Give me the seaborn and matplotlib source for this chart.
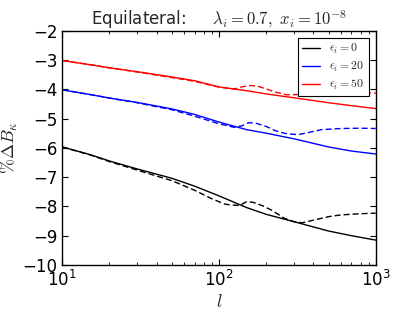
import matplotlib
matplotlib.use('Agg')
import matplotlib.pyplot as plt
from matplotlib.font_manager import FontProperties
from matplotlib.ticker import MultipleLocator
import pandas as pd
import seaborn as sns

# multipoles for the smooth (solid) curves
l_solid = [10, 15, 20, 30, 50, 70, 100, 150, 200, 300, 500, 700, 1000]
eps0_solid = [-5.97, -6.23, -6.45, -6.72, -7.04, -7.31, -7.64, -8.04, -8.27, -8.52, -8.84, -9.0, -9.15]
eps20_solid = [-4.02, -4.18, -4.30, -4.45, -4.67, -4.86, -5.12, -5.38, -5.50, -5.69, -5.97, -6.11, -6.21]
eps50_solid = [-3.02, -3.16, -3.27, -3.40, -3.58, -3.71, -3.92, -4.05, -4.16, -4.29, -4.46, -4.56, -4.66]

# dashed curves
l_dash0 = [10, 15, 20, 30, 50, 70, 90, 110, 135, 150, 165, 190, 215, 240, 260, 300, 340, 400, 500, 600, 800, 1000]
eps0_dash = [-5.97, -6.24, -6.47, -6.76, -7.12, -7.45, -7.74, -7.93, -7.97, -7.84, -7.86, -7.98, -8.12, -8.28, -8.40, -8.52,
             -8.56, -8.47, -8.35, -8.29, -8.25, -8.23]
l_dash = [10, 15, 20, 30, 50, 70, 100, 125, 140, 155, 175, 200, 230, 270, 320, 370, 450, 600, 800, 1000]
eps20_dash = [-4.02, -4.18, -4.30, -4.46, -4.70, -4.92, -5.18, -5.30, -5.25, -5.14, -5.17, -5.27, -5.42, -5.52, -5.55,
              -5.48, -5.38, -5.34, -5.33, -5.34]
eps50_dash = [-3.02, -3.16, -3.27, -3.41, -3.60, -3.73, -3.93, -3.99, -3.92, -3.87, -3.89, -3.99, -4.10, -4.19, -4.18,
              -4.15, -4.12, -4.11, -4.12, -4.13]

labels = [r'$\epsilon_i = 0$', r'$\epsilon_i = 20$', r'$\epsilon_i = 50$']
colors = ['black', 'blue', 'red']

sns.set_style('ticks', {'xtick.direction': 'in', 'ytick.direction': 'in'})
plt.rcParams['font.family'] = ['DejaVu Sans']
plt.rcParams.update({
    'xtick.top': True, 'ytick.right': True,
    'xtick.major.size': 4, 'ytick.major.size': 4,
    'xtick.minor.size': 2, 'xtick.minor.visible': True,
    'axes.edgecolor': 'black', 'axes.linewidth': 1.0,
    'font.size': 12,
})

fig = plt.figure(figsize=(4.17, 3.13), dpi=100)
ax = fig.add_axes([0.1494, 0.1534, 0.7516, 0.7486])

solid_sets = [eps0_solid, eps20_solid, eps50_solid]
dash_sets = [(l_dash0, eps0_dash), (l_dash, eps20_dash), (l_dash, eps50_dash)]

handles = []
for ys, (ld, yd), c, lab in zip(solid_sets, dash_sets, colors, labels):
    df_s = pd.DataFrame({'l': l_solid, 'v': ys})
    df_d = pd.DataFrame({'l': ld, 'v': yd})
    sns.lineplot(data=df_s, x='l', y='v', ax=ax, color=c, lw=1.0, estimator=None)
    sns.lineplot(data=df_d, x='l', y='v', ax=ax, color=c, lw=1.0, estimator=None,
                 dashes=False, linestyle=(0, (4.3, 2.2)))
    handles.append(ax.lines[-2])

ax.set_xscale('log')
ax.set_xlim(10, 1000)
ax.set_ylim(-10, -2)
ax.yaxis.set_major_locator(MultipleLocator(1))
ax.tick_params(axis='both', which='both', labelsize=12, colors='black')

ax.set_title('Equilateral:     ' + r'$\lambda_i = 0.7,\ x_i = 10^{-8}$',
             fontsize=12, pad=3, math_fontfamily='cm')
ax.set_xlabel(r'$l$', fontsize=13, math_fontfamily='cm', labelpad=2)
ax.set_ylabel(r'$\%\Delta B_\kappa$', fontsize=13, math_fontfamily='cm', labelpad=2)

leg = ax.legend(handles, labels, loc='upper right', prop=FontProperties(size=8.5, math_fontfamily='cm'),
                fancybox=False, framealpha=1, edgecolor='black', handlelength=1.5, borderaxespad=0.6,
                labelspacing=0.35, borderpad=0.35)
leg.get_frame().set_linewidth(0.8)

fig.savefig('out.png', dpi=100)
